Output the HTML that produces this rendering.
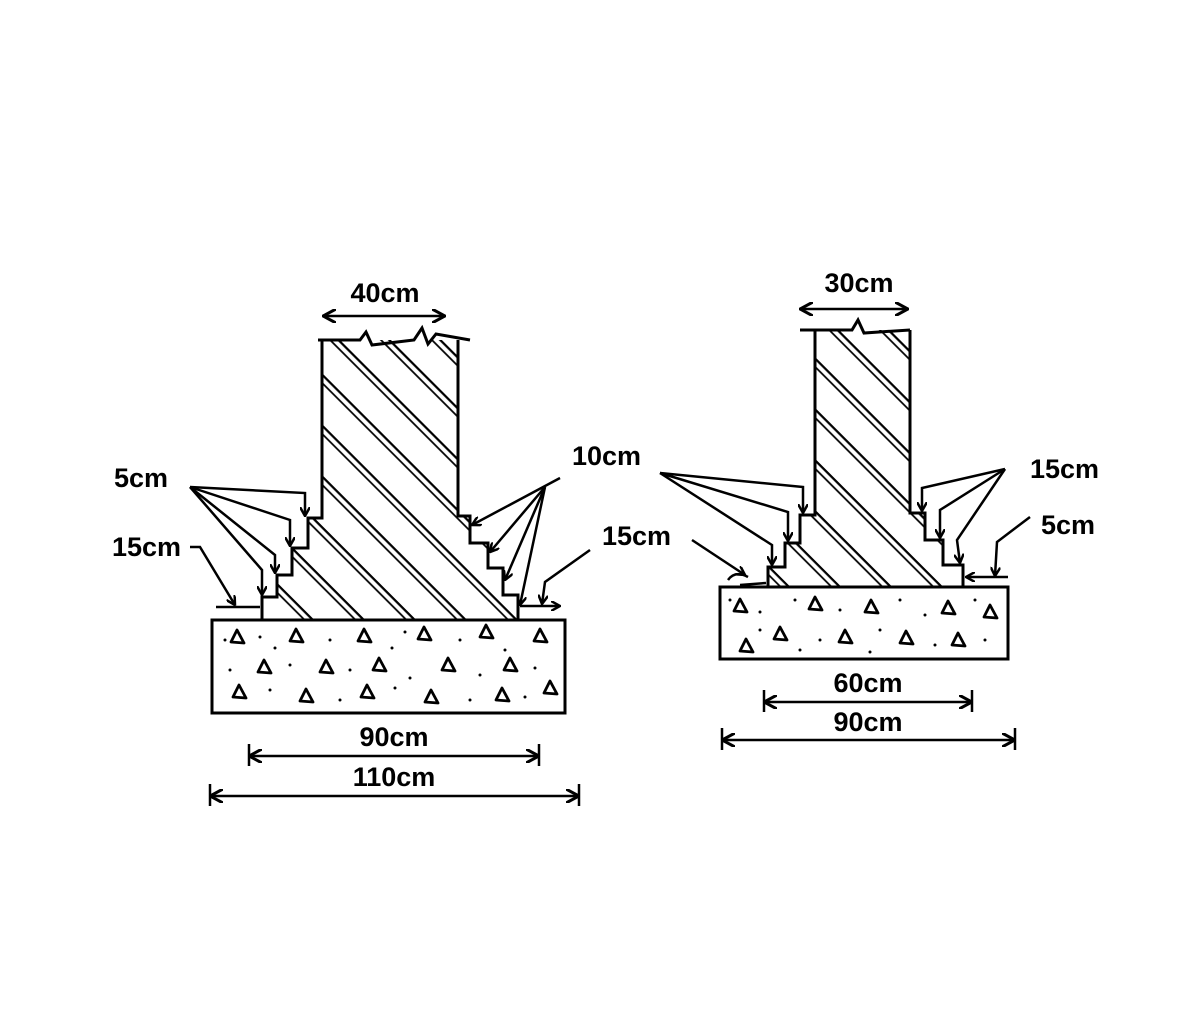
<!DOCTYPE html>
<html><head><meta charset="utf-8"><style>
html,body{margin:0;padding:0;background:#fff}
svg{display:block}
text{font-family:"Liberation Sans",sans-serif;font-weight:bold;font-size:27px;fill:#000}
</style></head><body>
<svg width="1192" height="1016" viewBox="0 0 1192 1016" xmlns="http://www.w3.org/2000/svg">
<defs>
<marker id="ah" markerWidth="10" markerHeight="10" refX="9" refY="5" orient="auto" markerUnits="userSpaceOnUse"><path d="M0,0 L9,5 L0,10" fill="none" stroke="#000" stroke-width="2.5"/></marker>
<marker id="ab" markerWidth="14" markerHeight="14" refX="13" refY="7" orient="auto-start-reverse" markerUnits="userSpaceOnUse"><path d="M0,0 L13,7 L0,14" fill="none" stroke="#000" stroke-width="3"/></marker>
<pattern id="hatch" width="36" height="36" patternUnits="userSpaceOnUse" patternTransform="rotate(45)">
<line x1="0" y1="1" x2="36" y2="1" stroke="#000" stroke-width="2.5"/>
<line x1="0" y1="7" x2="36" y2="7" stroke="#000" stroke-width="1.8"/>
</pattern>
<path id="tri" d="M0,-7 L7,6 L-6,5 Z" fill="none" stroke="#000" stroke-width="2.8" stroke-linejoin="round"/>
</defs>
<g fill="none" stroke="#000" stroke-width="3" stroke-linejoin="miter">
<path d="M322,340 L322,518 L308,518 L308,548 L292,548 L292,575 L277,575 L277,597 L262,597 L262,620 L518,620 L518,595 L503,595 L503,568 L488,568 L488,543 L470,543 L470,516 L458,516 L458,340" fill="url(#hatch)"/>
<path d="M318,340 L360,340 L366,332 L372,345 L414,340 L422,328 L428,344 L436,334 L470,340"/>
<rect x="212" y="620" width="353" height="93" stroke-width="3"/>
<path d="M815,330 L815,515 L800,515 L800,543 L785,543 L785,567 L768,567 L768,587 L963,587 L963,565 L943,565 L943,540 L925,540 L925,513 L910,513 L910,330" fill="url(#hatch)"/>
<path d="M800,330 L852,330 L858,320 L864,333 L910,330"/>
<rect x="720" y="587" width="288" height="72" stroke-width="3"/>
</g>
<g stroke="#000" stroke-width="2.5" fill="none">
<line x1="323" y1="316" x2="445" y2="316" marker-start="url(#ab)" marker-end="url(#ab)"/>
<line x1="249" y1="756" x2="539" y2="756" marker-start="url(#ab)" marker-end="url(#ab)"/>
<line x1="249" y1="744" x2="249" y2="766"/><line x1="539" y1="744" x2="539" y2="766"/>
<line x1="210" y1="796" x2="579" y2="796" marker-start="url(#ab)" marker-end="url(#ab)"/>
<line x1="210" y1="784" x2="210" y2="806"/><line x1="579" y1="784" x2="579" y2="806"/>
<line x1="800" y1="309" x2="908" y2="309" marker-start="url(#ab)" marker-end="url(#ab)"/>
<line x1="764" y1="702" x2="972" y2="702" marker-start="url(#ab)" marker-end="url(#ab)"/>
<line x1="764" y1="690" x2="764" y2="712"/><line x1="972" y1="690" x2="972" y2="712"/>
<line x1="722" y1="740" x2="1015" y2="740" marker-start="url(#ab)" marker-end="url(#ab)"/>
<line x1="722" y1="728" x2="722" y2="750"/><line x1="1015" y1="728" x2="1015" y2="750"/>
<path d="M190,487 L305,493 L305,516" marker-end="url(#ah)"/>
<path d="M190,487 L290,520 L290,546" marker-end="url(#ah)"/>
<path d="M190,487 L275,555 L275,573" marker-end="url(#ah)"/>
<path d="M190,487 L262,570 L262,595" marker-end="url(#ah)"/>
<path d="M190,547 L200,547 L235,605" marker-end="url(#ah)"/>
<path d="M216,607 L260,607"/>
<path d="M560,478 L472,525" marker-end="url(#ah)"/>
<path d="M545,487 L490,552" marker-end="url(#ah)"/>
<path d="M545,487 L505,580" marker-end="url(#ah)"/>
<path d="M545,487 L520,605" marker-end="url(#ah)"/>
<path d="M590,550 L545,582 L542,604" marker-end="url(#ah)"/>
<path d="M520,606 L560,606" marker-end="url(#ah)"/>
<path d="M660,473 L803,487 L803,513" marker-end="url(#ah)"/>
<path d="M660,473 L788,512 L788,541" marker-end="url(#ah)"/>
<path d="M660,473 L772,545 L772,565" marker-end="url(#ah)"/>
<path d="M692,540 L745,575" marker-end="url(#ah)"/>
<path d="M728,580 Q735,570 748,577 M740,585 L766,583"/>
<path d="M1005,469 L922,488 L922,511" marker-end="url(#ah)"/>
<path d="M1005,469 L940,510 L940,538" marker-end="url(#ah)"/>
<path d="M1005,469 L957,540 L960,563" marker-end="url(#ah)"/>
<path d="M1030,517 L997,542 L995,576" marker-end="url(#ah)"/>
<path d="M1008,577 L966,577" marker-end="url(#ah)"/>
</g>
<g>
<use href="#tri" x="237" y="637"/><use href="#tri" x="296" y="636"/><use href="#tri" x="364" y="636"/><use href="#tri" x="424" y="634"/><use href="#tri" x="486" y="632"/><use href="#tri" x="540" y="636"/>
<use href="#tri" x="264" y="667"/><use href="#tri" x="326" y="667"/><use href="#tri" x="379" y="665"/><use href="#tri" x="448" y="665"/><use href="#tri" x="510" y="665"/>
<use href="#tri" x="239" y="692"/><use href="#tri" x="306" y="696"/><use href="#tri" x="367" y="692"/><use href="#tri" x="431" y="697"/><use href="#tri" x="502" y="695"/><use href="#tri" x="550" y="688"/>
<use href="#tri" x="740" y="606"/><use href="#tri" x="815" y="604"/><use href="#tri" x="871" y="607"/><use href="#tri" x="948" y="608"/><use href="#tri" x="990" y="612"/>
<use href="#tri" x="780" y="634"/><use href="#tri" x="845" y="637"/><use href="#tri" x="906" y="638"/><use href="#tri" x="958" y="640"/><use href="#tri" x="746" y="646"/>
</g>
<g fill="#000">
<circle cx="225" cy="640" r="1.5"/><circle cx="260" cy="637" r="1.5"/><circle cx="275" cy="648" r="1.5"/><circle cx="330" cy="640" r="1.5"/><circle cx="392" cy="648" r="1.5"/><circle cx="405" cy="632" r="1.5"/><circle cx="460" cy="640" r="1.5"/><circle cx="505" cy="650" r="1.5"/><circle cx="230" cy="670" r="1.5"/><circle cx="290" cy="665" r="1.5"/><circle cx="350" cy="670" r="1.5"/><circle cx="410" cy="678" r="1.5"/><circle cx="480" cy="675" r="1.5"/><circle cx="535" cy="668" r="1.5"/><circle cx="270" cy="690" r="1.5"/><circle cx="340" cy="700" r="1.5"/><circle cx="395" cy="688" r="1.5"/><circle cx="470" cy="700" r="1.5"/><circle cx="525" cy="697" r="1.5"/>
<circle cx="730" cy="600" r="1.5"/><circle cx="760" cy="612" r="1.5"/><circle cx="795" cy="600" r="1.5"/><circle cx="840" cy="610" r="1.5"/><circle cx="900" cy="600" r="1.5"/><circle cx="925" cy="615" r="1.5"/><circle cx="975" cy="600" r="1.5"/><circle cx="760" cy="630" r="1.5"/><circle cx="820" cy="640" r="1.5"/><circle cx="880" cy="630" r="1.5"/><circle cx="935" cy="645" r="1.5"/><circle cx="985" cy="640" r="1.5"/><circle cx="800" cy="650" r="1.5"/><circle cx="870" cy="652" r="1.5"/>
</g>
<text x="385" y="302" text-anchor="middle">40cm</text>
<text x="394" y="746" text-anchor="middle">90cm</text>
<text x="394" y="786" text-anchor="middle">110cm</text>
<text x="859" y="292" text-anchor="middle">30cm</text>
<text x="868" y="692" text-anchor="middle">60cm</text>
<text x="868" y="731" text-anchor="middle">90cm</text>
<text x="114" y="487">5cm</text>
<text x="112" y="556">15cm</text>
<text x="572" y="465">10cm</text>
<text x="602" y="545">15cm</text>
<text x="1030" y="478">15cm</text>
<text x="1041" y="534">5cm</text>
</svg>
</body></html>
